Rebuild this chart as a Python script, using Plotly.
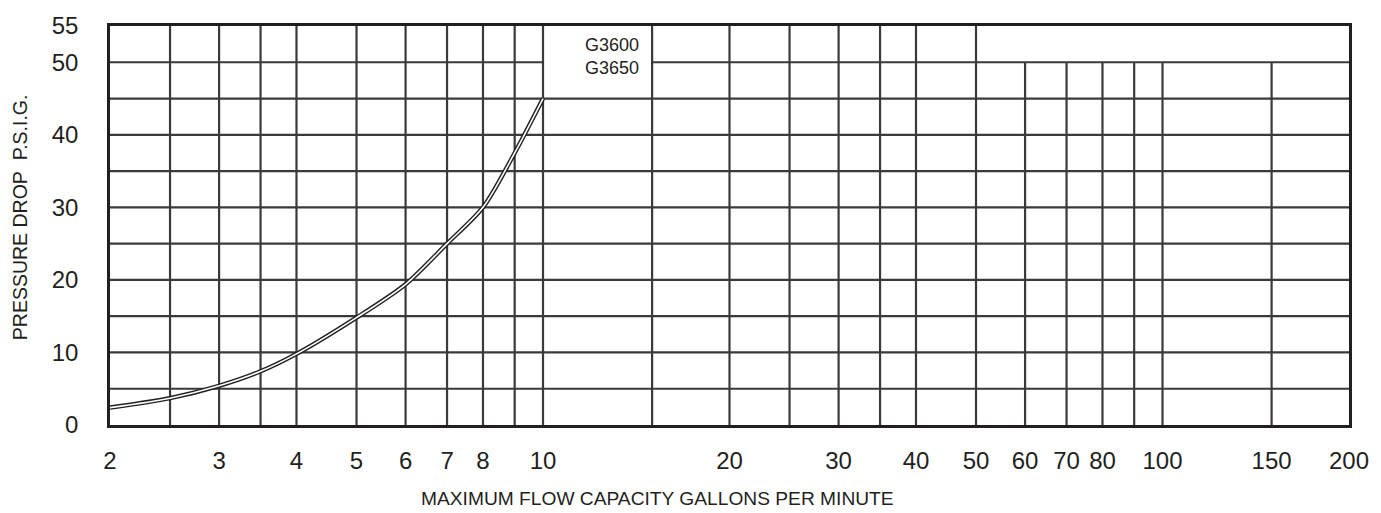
import math
import plotly.graph_objects as go

# ---------------- data ----------------
flow_gpm = [2, 2.5, 3, 3.5, 4, 5, 6, 7, 8, 9, 10]
pressure_drop = [2.4, 3.7, 5.4, 7.4, 9.8, 14.8, 19.4, 25, 30, 37.5, 45]

x_tick_vals = [2, 3, 4, 5, 6, 7, 8, 10, 20, 30, 40, 50, 60, 70, 80, 100, 150, 200]
x_tick_text = [str(v) for v in x_tick_vals]
y_tick_vals = [0, 10, 20, 30, 40, 50, 55]
y_tick_text = [str(v) for v in y_tick_vals]

x_range = [2, 200]
y_range = [0, 55]
x_grid_full = [2.5, 3, 3.5, 4, 5, 6, 7, 8, 9, 10, 15, 20, 25, 30, 35, 40, 50]
x_grid_short = [60, 70, 80, 90, 100, 150]
x_grid_short_top = 50
y_grid = [5, 10, 15, 20, 25, 30, 35, 40, 45, 50]
label_box_x = [10, 15]          # gap in the 50 line where the model label sits
label_box_y = 50
model_labels = ["G3600", "G3650"]

x_title = "MAXIMUM FLOW CAPACITY GALLONS PER MINUTE"
y_title = "PRESSURE DROP\u00a0\u00a0P.S.I.G."

INK = "#231f20"
GRID = "#3a3a3a"
FONT = "Liberation Sans, Arial, sans-serif"

# ---------------- grid segments ----------------
gx, gy = [], []
for xv in x_grid_full:
    gx += [xv, xv, None]
    gy += [y_range[0], y_range[1], None]
for xv in x_grid_short:
    gx += [xv, xv, None]
    gy += [y_range[0], x_grid_short_top, None]
for yv in y_grid:
    if yv == label_box_y:
        gx += [x_range[0], label_box_x[0], None, label_box_x[1], x_range[1], None]
        gy += [yv, yv, None, yv, yv, None]
    else:
        gx += [x_range[0], x_range[1], None]
        gy += [yv, yv, None]

fig = go.Figure()
fig.add_trace(go.Scatter(x=gx, y=gy, mode="lines",
                         line=dict(color=GRID, width=2.2),
                         hoverinfo="skip", showlegend=False))
# double-line curve: dark thick line with thin white core
fig.add_trace(go.Scatter(x=flow_gpm, y=pressure_drop, mode="lines",
                         line=dict(color=INK, width=4.4, shape="spline", smoothing=0.8),
                         hoverinfo="skip", showlegend=False))
fig.add_trace(go.Scatter(x=flow_gpm, y=pressure_drop, mode="lines",
                         line=dict(color="white", width=1.6, shape="spline", smoothing=0.8),
                         hoverinfo="skip", showlegend=False))

fig.add_annotation(x=math.log10(label_box_x[1]), y=label_box_y + 0.8, xref="x", yref="y",
                   text="<br>".join(model_labels), showarrow=False,
                   xanchor="right", yanchor="middle", align="right", xshift=-11,
                   font=dict(family=FONT, size=18, color=INK))

fig.add_annotation(x=0.4419, y=-0.184, xref="paper", yref="paper", text=x_title,
                   showarrow=False, xanchor="center", yanchor="middle",
                   font=dict(family=FONT, size=19.2, color=INK))
fig.add_annotation(x=-0.0726, y=0.521, xref="paper", yref="paper", text=y_title,
                   showarrow=False, textangle=-90, xanchor="center", yanchor="middle",
                   font=dict(family=FONT, size=19.5, color=INK))

fig.update_layout(
    width=1381, height=513,
    margin=dict(l=110, r=24, t=22, b=88),
    paper_bgcolor="white", plot_bgcolor="white",
    showlegend=False,
    xaxis=dict(type="log",
               range=[math.log10(x_range[0]) - 1e-9, math.log10(x_range[1]) + 1e-9],
               tickmode="array", tickvals=x_tick_vals, ticktext=x_tick_text,
               showgrid=False, zeroline=False, ticks="",
               showline=True, mirror=True, linecolor=INK, linewidth=2.5,
               ticklabelstandoff=12,
               tickfont=dict(family=FONT, size=24, color=INK)),
    yaxis=dict(range=[y_range[0], y_range[1]],
               tickmode="array", tickvals=y_tick_vals, ticktext=y_tick_text,
               showgrid=False, zeroline=False, ticks="",
               showline=True, mirror=True, linecolor=INK, linewidth=2.5,
               ticklabelstandoff=24,
               tickfont=dict(family=FONT, size=24, color=INK)),
)

fig.write_html("out.html",
               config={"displayModeBar": False},
               post_script="document.body.style.margin='0';"
                           "document.body.style.overflow='hidden';")
